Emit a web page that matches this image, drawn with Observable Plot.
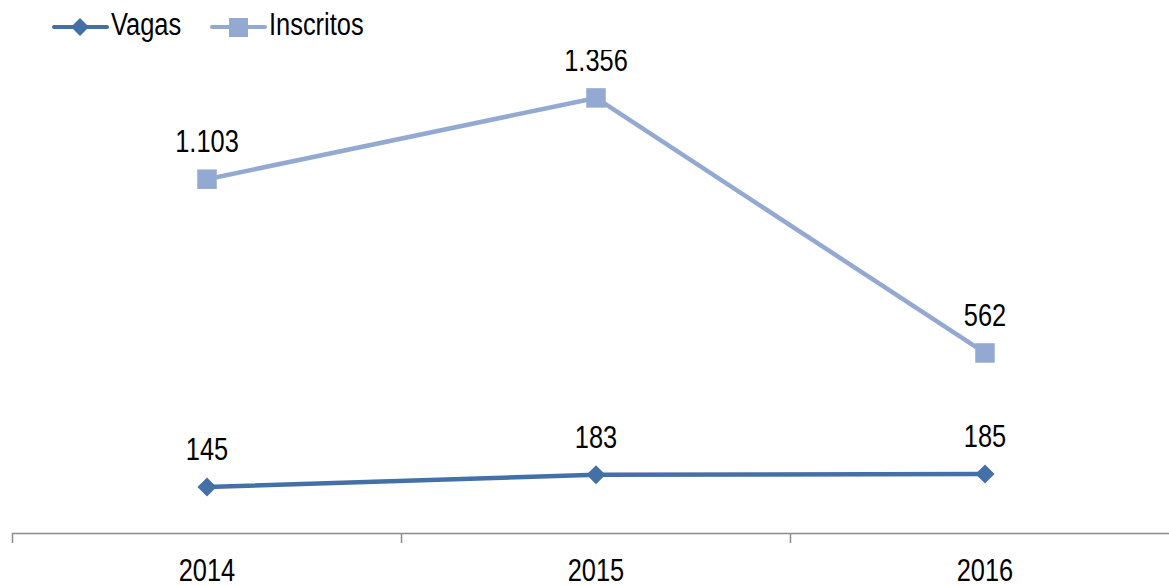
<!DOCTYPE html>
<html><head><meta charset="utf-8">
<script src="https://cdn.jsdelivr.net/npm/d3@7"></script>
<script src="https://cdn.jsdelivr.net/npm/@observablehq/plot@0.6"></script>
<style>
html,body{margin:0;padding:0;background:#fff;}
body{width:1169px;height:585px;overflow:hidden;font-family:"Liberation Sans",Arial,sans-serif;}
#legend{height:50px;position:relative;}
.item{position:absolute;top:10px;height:34px;}
.item svg{position:absolute;left:0;top:0;}
.item span{position:absolute;top:-3px;white-space:nowrap;font-size:31px;color:#000;transform:scaleX(0.82);transform-origin:left center;}
</style>
</head><body>
<div id="legend"></div>
<div id="chart"></div>
<script>
const years = [2014, 2015, 2016];
const vagas = [145, 183, 185];
const inscritos = [1103, 1356, 562];
const seriesNames = ["Vagas", "Inscritos"];
const colors = ["#4470a8", "#93a9d1"];

const data = [];
years.forEach((y, i) => {
  data.push({year: y, value: vagas[i], series: "Vagas"});
  data.push({year: y, value: inscritos[i], series: "Inscritos"});
});
const fmt = d3.formatLocale({decimal: ",", thousands: ".", grouping: [3], currency: ["R$", ""]}).format(",d");

// legend
const legend = document.getElementById("legend");
const legendX = [52, 210];
seriesNames.forEach((s, i) => {
  const div = document.createElement("div");
  div.className = "item";
  div.style.left = legendX[i] + "px";
  const mk = i === 0
    ? `<path d="M28,8 L37,17 L28,26 L19,17 Z" fill="${colors[i]}"/>`
    : `<rect x="19" y="8" width="19" height="19" fill="${colors[i]}"/>`;
  div.innerHTML = `<svg width="57" height="34"><line x1="2" y1="17" x2="55" y2="17" stroke="${colors[i]}" stroke-width="4" stroke-linecap="round"/>${mk}</svg><span style="left:59px">${s}</span>`;
  legend.appendChild(div);
});

const font = "Liberation Sans, Arial, sans-serif";
const boundaries = years.map(y => y - 0.5);

const chart = Plot.plot({
  width: 1169,
  height: 535,
  marginLeft: 12,
  marginRight: 0,
  marginTop: 0,
  marginBottom: 52,
  style: {fontFamily: font, fontSize: "31px", color: "#000", background: "#fff"},
  x: {type: "linear", domain: [2013.5, 2016.5], range: [12, 1179]},
  y: {domain: [0, 1400], range: [483, 33.3], axis: null},
  color: {domain: seriesNames, range: colors},
  marks: [
    Plot.ruleY([0], {stroke: "#8c8c8c", strokeWidth: 1.5}),
    Plot.axisX({ticks: boundaries, tickSize: 10, tickFormat: () => "", stroke: "#8c8c8c", strokeWidth: 1.5, strokeOpacity: 1, label: null}),
    Plot.axisX({ticks: years, tickSize: 0, tickPadding: 25, tickFormat: d => String(d), label: null, fontSize: 31}),
    Plot.line(data, {x: "year", y: "value", z: "series", stroke: "series", strokeWidth: 4.5}),
    Plot.dot(data.filter(d => d.series === "Inscritos"), {x: "year", y: "value", symbol: "square", r: 11, fill: colors[1], stroke: "none"}),
    Plot.dot(data.filter(d => d.series === "Vagas"), {x: "year", y: "value", symbol: "diamond2", r: 8.6, fill: colors[0], stroke: "none"}),
    Plot.text(data, {x: "year", y: "value", text: d => fmt(d.value), lineAnchor: "bottom", dy: -27, fill: "#000", fontSize: 31})
  ]
});
// condense text horizontally (narrow font look) around each text's own anchor
chart.querySelectorAll("text").forEach(t => {
  const x = +(t.getAttribute("x") || 0);
  const tr = t.getAttribute("transform") || "";
  t.setAttribute("transform", `${tr} translate(${x},0) scale(0.82,1) translate(${-x},0)`);
});
document.getElementById("chart").appendChild(chart);
</script>
</body></html>
